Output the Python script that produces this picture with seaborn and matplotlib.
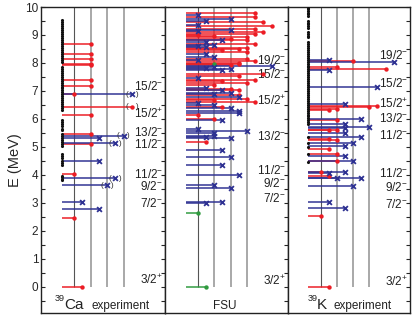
import numpy as np
import pandas as pd
import seaborn as sns
import matplotlib.pyplot as plt

# level energies (MeV), spins J and parity/colour class of each line
ca_E = [0.00, 2.48, 2.80, 3.04, 3.63, 3.89, 4.02, 4.49, 5.12, 5.14, 5.33, 5.40, 5.48,
        6.15, 6.43, 6.89, 6.89, 7.19, 7.38, 7.92, 7.98, 8.14, 8.33, 8.69]
ca_J = [1.5, 0.5, 3.5, 1.5, 4.5, 5.5, 0.5, 3.5, 2.5, 5.5, 3.5, 6.5, 2.5,
        2.5, 7.5, 0.5, 7.5, 2.5, 2.5, 2.5, 2.5, 2.5, 2.5, 2.5]
ca_P = ['r', 'r', 'b', 'b', 'b', 'b', 'r', 'b', 'r', 'b', 'b', 'b', 'r',
        'r', 'r', 'r', 'b', 'r', 'r', 'r', 'r', 'r', 'r', 'r']
ca_paren_E = [3.63, 3.89, 5.14, 5.40, 6.43, 6.89]
ca_paren_J = [4.5, 5.5, 5.5, 6.5, 7.5, 7.5]
ca_dots = [9.52, 9.45, 9.38, 9.31, 9.24, 9.17, 9.10, 9.03, 8.96, 8.89, 8.82, 8.75, 8.68,
           8.61, 8.54, 8.47, 8.40, 8.33, 8.26, 8.19, 8.12, 8.05, 7.86, 7.79, 7.72, 7.65,
           7.58, 7.51, 7.44, 7.37, 7.30, 7.23, 7.16, 7.09, 7.02, 6.95, 6.88, 6.81, 6.74,
           6.67, 6.60, 6.53, 6.46, 6.39, 6.32, 5.97, 5.90, 5.83, 5.76, 5.66, 5.59, 5.48,
           5.40, 5.33, 5.26, 5.19, 5.12, 5.05, 4.74, 4.67, 4.60, 4.50, 4.42, 4.34, 3.98,
           3.92, 3.86, 3.81]

fsu_E = [0.00, 2.65, 3.00, 3.05, 3.54, 3.63, 4.01, 4.36, 4.64, 4.91, 5.17, 5.33, 5.37,
         5.40, 5.50, 5.56, 5.65, 5.95, 6.01, 6.13, 6.21, 6.27, 6.40, 6.43, 6.49, 6.58,
         6.61, 6.69, 6.70, 6.79, 6.85, 6.90, 6.92, 7.02, 7.05, 7.08, 7.12, 7.20, 7.29,
         7.35, 7.38, 7.46, 7.52, 7.60, 7.74, 7.77, 7.83, 7.86, 7.89, 7.93, 7.95, 7.98,
         8.01, 8.06, 8.10, 8.15, 8.21, 8.33, 8.39, 8.45, 8.49, 8.54, 8.58, 8.61, 8.65,
         8.69, 8.75, 8.81, 8.83, 8.87, 8.93, 8.97, 9.00, 9.04, 9.10, 9.15, 9.19, 9.23,
         9.32, 9.37, 9.46, 9.49, 9.56, 9.64, 9.70, 9.79]
fsu_J = [1.5, 0.5, 1.5, 3.5, 4.5, 2.5, 5.5, 3.5, 4.5, 3.5, 1.5, 4.5, 1.5,
         2.5, 2.5, 6.5, 0.5, 3.5, 2.5, 0.5, 5.5, 5.5, 4.5, 3.5, 2.5, 0.5,
         7.5, 2.5, 6.5, 5.5, 5.5, 2.5, 4.5, 5.5, 3.5, 4.5, 1.5, 2.5, 6.5,
         3.5, 7.5, 0.5, 5.5, 8.5, 3.5, 4.5, 1.5, 2.5, 9.5, 4.5, 5.5, 2.5,
         5.5, 7.5, 0.5, 6.5, 2.5, 1.5, 6.5, 3.5, 5.5, 6.5, 1.5, 0.5, 2.5,
         7.5, 1.5, 6.5, 3.5, 4.5, 6.5, 2.5, 0.5, 7.5, 8.5, 0.5, 4.5, 7.5,
         9.5, 0.5, 8.5, 1.5, 4.5, 7.5, 0.5, 7.5]
fsu_P = ['g', 'g', 'b', 'b', 'b', 'b', 'b', 'b', 'b', 'b', 'r', 'b', 'b',
         'b', 'b', 'b', 'b', 'b', 'r', 'r', 'b', 'b', 'b', 'r', 'b', 'b',
         'r', 'r', 'r', 'b', 'r', 'b', 'b', 'r', 'b', 'r', 'b', 'r', 'r',
         'r', 'r', 'b', 'r', 'r', 'b', 'b', 'b', 'b', 'b', 'r', 'r', 'g',
         'r', 'r', 'b', 'r', 'b', 'b', 'r', 'r', 'r', 'r', 'b', 'b', 'b',
         'r', 'b', 'r', 'b', 'r', 'r', 'r', 'r', 'r', 'r', 'b', 'b', 'r',
         'r', 'b', 'r', 'b', 'b', 'r', 'b', 'r']

k_E = [0.00, 2.52, 2.81, 3.02, 3.61, 3.88, 3.90, 3.95, 4.08, 4.10, 4.10, 4.49, 4.50,
       4.68, 4.74, 4.94, 5.04, 5.15, 5.26, 5.28, 5.36, 5.50, 5.60, 5.62, 5.69, 5.73,
       5.81, 5.96, 6.01, 6.33, 6.36, 6.43, 6.45, 6.55, 7.14, 7.74, 7.77, 7.86, 8.04,
       8.08, 8.09]
k_J = [1.5, 0.5, 3.5, 1.5, 4.5, 2.5, 5.5, 1.5, 1.5, 3.5, 0.5, 4.5, 2.5,
       3.5, 2.5, 1.5, 3.5, 4.5, 2.5, 1.5, 5.5, 3.5, 2.5, 1.5, 3.5, 6.5,
       3.5, 2.5, 5.5, 1.5, 2.5, 6.5, 7.5, 3.5, 7.5, 1.5, 8.5, 2.5, 9.5,
       4.5, 1.5]
k_P = ['r', 'r', 'b', 'b', 'b', 'b', 'b', 'r', 'b', 'b', 'r', 'b', 'r',
       'b', 'r', 'r', 'b', 'b', 'r', 'r', 'b', 'b', 'r', 'r', 'b', 'b',
       'b', 'r', 'b', 'r', 'r', 'r', 'r', 'b', 'b', 'b', 'r', 'r', 'b',
       'r', 'b']
k_dots = [9.98, 9.92, 9.86, 9.80, 9.74, 9.68, 9.50, 9.44, 9.38, 9.32, 9.25, 9.10, 9.04,
          8.98, 8.93, 8.75, 8.68, 8.61, 8.54, 8.47, 8.40, 8.33, 8.26, 8.19, 8.12, 8.05,
          7.98, 7.91, 7.84, 7.77, 7.70, 7.63, 7.56, 7.49, 7.42, 7.35, 7.28, 7.21, 7.14,
          7.07, 7.00, 6.93, 6.86, 6.79, 6.72, 6.65, 6.58, 6.51, 6.44, 6.37, 6.30, 6.23,
          6.16, 6.09, 6.02, 5.95, 5.88, 5.81, 5.36, 5.15, 5.00, 4.74, 4.46]

# spin labels on the right of each panel
ca_lab = ['3/2$^{+}$', '7/2$^{-}$', '9/2$^{-}$', '11/2$^{-}$', '11/2$^{-}$', '13/2$^{-}$',
          '15/2$^{+}$', '15/2$^{-}$']
ca_lab_E = [0.24, 2.98, 3.60, 4.02, 5.10, 5.50, 6.19, 7.17]
fsu_lab = ['3/2$^{+}$', '7/2$^{-}$', '9/2$^{-}$', '11/2$^{-}$', '13/2$^{-}$', '15/2$^{+}$',
           '15/2$^{-}$', '19/2$^{-}$']
fsu_lab_E = [0.21, 3.15, 3.68, 4.16, 5.36, 6.64, 7.60, 8.10]
k_lab = ['3/2$^{+}$', '7/2$^{-}$', '9/2$^{-}$', '11/2$^{-}$', '11/2$^{-}$', '13/2$^{-}$',
         '15/2$^{+}$', '15/2$^{-}$', '19/2$^{-}$']
k_lab_E = [0.18, 2.95, 3.57, 4.05, 5.42, 6.01, 6.52, 7.26, 8.27]

grid_J = [0.5, 2.5, 4.5, 6.5]
START = -1.0
cols = {'r': '#ec1c24', 'b': '#2e3192', 'g': '#2f9a3e'}

sns.set_theme(style='ticks')
plt.rcParams['font.family'] = ['Liberation Sans', 'DejaVu Sans']
plt.rcParams['mathtext.default'] = 'regular'

fig = plt.figure(figsize=(4.16, 3.21), dpi=100)
W, H = 416, 321
boxes = [(41, 124), (165, 123), (288, 122)]
axes = [fig.add_axes([x0 / W, 8 / H, w / W, 306 / H]) for x0, w in boxes]

panels = [
    (ca_E, ca_J, ca_P, ca_dots, ca_lab, ca_lab_E),
    (fsu_E, fsu_J, fsu_P, None, fsu_lab, fsu_lab_E),
    (k_E, k_J, k_P, k_dots, k_lab, k_lab_E),
]

for i, (ax, (E, J, P, dots, lab, labE)) in enumerate(zip(axes, panels)):
    df = pd.DataFrame({'E': E, 'J': J, 'P': P})
    ax.vlines(grid_J[0], 0, 10, color='#555555', lw=0.8, zorder=1)
    ax.vlines(grid_J[1:], 0, 10, color='#9a9a9a', lw=1.2, zorder=1)
    for p in ['g', 'r', 'b']:
        sub = df[df.P == p]
        ax.hlines(sub.E, START, sub.J, color=cols[p], lw=1.2, alpha=0.9, zorder=2)
    if dots is not None:
        sns.scatterplot(x=[START] * len(dots), y=dots, color='#111111', s=5,
                        linewidth=0, ax=ax, zorder=3)
    for p in ['g', 'r']:
        sub = df[df.P == p]
        sns.scatterplot(data=sub, x='J', y='E', color=cols[p], s=10, marker='o',
                        linewidth=0, ax=ax, zorder=4)
    sub = df[df.P == 'b']
    sns.scatterplot(data=sub, x='J', y='E', color=cols['b'], s=12, marker='x',
                    linewidth=1.3, ax=ax, zorder=4)
    for t, e in zip(lab, labE):
        ax.text(0.985, e, t, transform=ax.get_yaxis_transform(), ha='right',
                va='center', fontsize=8.5, color='#222222')
    ax.set_xlim(-3.5, 11.5)
    ax.set_ylim(-0.93, 10)
    ax.set_xticks([])
    ax.set_xlabel('')
    ax.set_yticks(range(0, 11))
    ax.set_yticks(np.arange(-0.5, 10, 1.0), minor=True)
    ax.tick_params(axis='y', which='both', direction='in', length=3, width=0.8,
                   right=True, left=(i == 0), labelleft=(i == 0), labelsize=8.5,
                   pad=2)
    for s in ax.spines.values():
        s.set_linewidth(1.0)
        s.set_color('#222222')
    if i == 0:
        ax.set_ylabel('E (MeV)', fontsize=10.5, labelpad=2)
    else:
        ax.set_ylabel('')

for e, j in zip(ca_paren_E, ca_paren_J):
    axes[0].text(j, e, '(   )', ha='center', va='center', fontsize=6, color='#333333')

# panel captions below the ground state: (text, x in axes fraction, size, raised)
base = -0.77
captions = [
    [('39', 0.113, 6.5, 0.28), ('Ca', 0.185, 11, 0), ('experiment', 0.41, 8.5, 0)],
    [('FSU', 0.39, 8.5, 0)],
    [('39', 0.165, 6.5, 0.28), ('K', 0.238, 11, 0), ('experiment', 0.37, 8.5, 0)],
]
for ax, caps in zip(axes, captions):
    for t, xf, fs, up in caps:
        ax.text(xf, base + up, t, transform=ax.get_yaxis_transform(), fontsize=fs,
                ha='left', va='baseline', color='#222222')

fig.savefig('out.png', dpi=100)
